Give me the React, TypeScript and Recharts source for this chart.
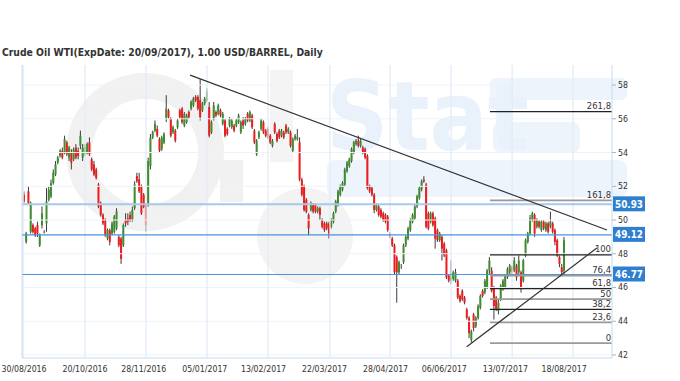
import React from 'react';
import { ComposedChart, Bar, XAxis, YAxis, ReferenceLine } from 'recharts';

const FONT = "'DejaVu Sans Condensed', 'DejaVu Sans', sans-serif";

// daily candles, Crude Oil WTI (Sep 2017 contract), one entry per bar
const opens = [
  51.5, 48.7, 51.7, 49.3, 49.7, 49.5, 49.7, 48.5, 49.7, 49.3,
  49.8, 51.2, 51.4, 52.2, 52.7, 53.4, 53.8, 54.1, 54.0, 54.6,
  53.7, 54.0, 53.6, 54.3, 54.1, 54.4, 53.7, 53.9, 54.0, 54.6,
  53.6, 53.3, 53.0, 52.1, 51.0, 50.3, 50.0, 48.9, 49.4, 49.2,
  49.3, 49.5, 49.0, 48.9, 48.5, 50.0, 50.1, 50.3, 50.0, 50.7,
  52.6, 52.4, 52.0, 51.5, 50.9, 50.9, 53.2, 54.9, 55.3, 55.4,
  54.8, 54.2, 54.6, 56.0, 56.5, 56.0, 55.2, 55.3, 55.5, 56.5,
  56.6, 55.6, 55.8, 56.4, 56.6, 56.8, 57.3, 57.3, 57.1, 56.5,
  56.9, 57.1, 56.7, 55.2, 56.0, 56.4, 56.3, 56.5, 55.7, 55.9,
  55.4, 55.6, 55.5, 55.6, 55.6, 55.8, 55.2, 55.9, 55.7, 56.3,
  55.9, 56.2, 55.3, 53.9, 54.9, 55.4, 55.8, 55.3, 55.4, 55.0,
  54.4, 55.7, 55.1, 55.3, 55.0, 55.2, 55.6, 55.2, 55.2, 54.1,
  54.8, 54.8, 54.6, 52.4, 52.0, 51.2, 50.3, 50.6, 50.9, 50.9,
  50.5, 50.7, 50.0, 49.8, 49.8, 49.8, 49.6, 49.9, 50.5, 50.9,
  51.5, 51.8, 52.1, 52.9, 53.2, 53.5, 54.0, 54.5, 54.7, 54.4,
  54.3, 54.2, 53.8, 52.0, 51.9, 51.5, 50.6, 50.8, 50.6, 50.4,
  50.3, 50.2, 49.2, 48.9, 48.5, 47.8, 46.9, 47.3, 47.5, 48.5,
  48.9, 49.4, 49.9, 50.1, 50.8, 51.3, 51.8, 52.4, 52.1, 50.4,
  49.9, 50.4, 50.1, 49.4, 48.8, 49.0, 48.6, 48.2, 46.7, 46.4,
  46.5, 46.4, 46.4, 45.5, 45.8, 45.4, 44.7, 44.2, 42.9, 44.4,
  43.7, 44.2, 44.8, 45.8, 45.7, 46.0, 47.0, 47.0, 46.0, 45.4,
  44.6, 45.3, 45.9, 46.0, 46.6, 46.9, 47.2, 47.0, 47.3, 46.9,
  46.9, 46.4, 47.9, 48.7, 49.2, 50.0, 50.3, 49.6, 49.9, 49.4,
  49.9, 49.4, 49.8, 49.6, 49.8, 49.4, 48.8, 47.8, 47.2, 47.0,
];

const highs = [
  51.7, 49.3, 52.0, 51.1, 49.8, 49.6, 49.9, 49.2, 50.8, 49.4,
  51.9, 52.0, 52.4, 53.0, 53.5, 53.8, 54.2, 54.3, 55.0, 54.7,
  54.4, 54.2, 54.3, 54.5, 54.3, 55.3, 54.5, 54.5, 54.6, 54.9,
  53.7, 53.5, 53.1, 52.2, 51.1, 50.4, 50.1, 49.5, 49.5, 49.9,
  50.3, 50.7, 49.1, 49.0, 49.8, 50.4, 50.4, 50.5, 50.8, 52.3,
  52.8, 52.8, 52.1, 51.6, 51.0, 53.7, 55.1, 55.3, 55.9, 55.6,
  54.9, 55.0, 55.2, 57.4, 56.6, 56.1, 55.6, 55.4, 56.0, 56.6,
  56.7, 56.4, 56.3, 56.5, 57.1, 57.3, 57.4, 57.4, 58.35, 57.0,
  57.3, 57.8, 57.0, 55.9, 57.0, 56.5, 56.9, 56.6, 56.4, 56.0,
  55.5, 56.1, 56.0, 55.7, 56.0, 56.3, 55.9, 56.1, 56.1, 56.4,
  56.5, 56.3, 55.4, 54.8, 55.3, 56.0, 55.9, 55.4, 55.5, 55.1,
  54.8, 55.8, 55.2, 55.4, 55.4, 55.3, 55.7, 55.5, 55.3, 54.9,
  55.1, 55.4, 54.9, 52.5, 52.1, 51.3, 50.4, 51.1, 51.0, 51.0,
  50.8, 50.8, 50.1, 49.9, 49.9, 49.9, 50.1, 50.5, 51.2, 51.8,
  52.1, 52.3, 53.1, 53.5, 53.7, 54.3, 54.7, 54.8, 55.0, 54.8,
  54.4, 54.3, 53.9, 52.1, 52.0, 51.6, 51.0, 50.9, 50.7, 50.5,
  50.4, 50.3, 49.3, 49.0, 48.6, 47.9, 47.6, 47.4, 48.6, 49.1,
  49.6, 50.1, 50.4, 50.9, 51.5, 52.0, 52.4, 52.6, 52.2, 50.5,
  50.5, 50.5, 50.2, 49.5, 49.3, 49.1, 48.7, 48.3, 46.8, 47.6,
  47.0, 47.1, 46.5, 45.6, 45.9, 45.5, 44.8, 44.3, 43.5, 44.5,
  44.3, 45.0, 45.6, 45.9, 46.5, 47.1, 47.8, 47.2, 46.1, 45.5,
  45.3, 46.2, 46.5, 46.8, 47.2, 47.4, 47.3, 47.8, 47.4, 47.9,
  47.0, 47.7, 48.9, 49.3, 50.3, 50.5, 50.4, 50.1, 50.0, 50.0,
  50.0, 49.9, 49.9, 50.5, 49.9, 49.5, 48.9, 47.9, 47.4, 49.0,
];

const lows = [
  51.0, 48.6, 50.9, 49.2, 49.2, 49.0, 49.0, 48.4, 49.5, 49.2,
  49.3, 51.1, 51.3, 52.1, 52.6, 53.3, 53.7, 53.6, 53.9, 53.8,
  53.5, 53.0, 53.5, 53.6, 53.6, 54.2, 53.5, 53.8, 53.9, 53.8,
  52.9, 52.6, 52.4, 50.7, 50.2, 49.7, 49.0, 48.8, 48.5, 49.1,
  49.2, 49.4, 48.4, 47.4, 48.4, 49.6, 49.7, 49.9, 49.9, 50.6,
  52.2, 51.6, 50.3, 50.7, 49.3, 50.8, 53.0, 54.8, 55.2, 54.9,
  54.0, 54.1, 54.5, 55.8, 56.0, 54.9, 55.1, 54.6, 55.4, 56.0,
  55.7, 55.5, 55.7, 56.0, 56.5, 56.7, 57.0, 56.5, 55.9, 56.4,
  56.8, 57.0, 54.9, 55.1, 55.9, 56.1, 56.2, 56.1, 55.6, 54.9,
  55.0, 55.5, 55.4, 55.2, 55.5, 55.7, 55.1, 55.4, 55.6, 55.8,
  55.8, 55.4, 54.5, 53.8, 54.8, 55.3, 55.1, 54.9, 54.8, 54.5,
  54.3, 55.1, 54.6, 54.8, 54.9, 54.8, 55.1, 55.1, 54.3, 54.0,
  54.7, 54.7, 52.3, 51.4, 50.5, 50.4, 49.1, 50.5, 50.4, 50.4,
  50.4, 50.0, 49.5, 49.3, 49.4, 48.9, 49.5, 49.8, 50.4, 50.8,
  51.4, 51.7, 52.0, 52.8, 53.1, 53.4, 53.9, 54.4, 54.3, 54.3,
  53.9, 53.6, 51.8, 51.6, 51.4, 50.4, 50.5, 50.2, 50.1, 49.9,
  49.8, 49.3, 48.9, 48.4, 46.8, 45.1, 46.8, 47.1, 47.4, 48.4,
  48.8, 49.3, 49.8, 50.0, 50.7, 51.2, 51.7, 52.2, 49.5, 49.4,
  49.8, 49.6, 48.3, 48.7, 48.7, 47.6, 47.8, 46.5, 46.3, 46.2,
  46.4, 46.3, 45.3, 45.1, 45.2, 45.0, 44.1, 43.0, 42.75, 43.4,
  43.6, 44.1, 44.7, 45.4, 45.6, 45.9, 46.8, 45.7, 44.1, 44.6,
  44.4, 45.2, 45.8, 45.9, 46.5, 46.8, 46.8, 46.9, 46.4, 46.8,
  45.7, 46.3, 47.8, 48.6, 49.1, 49.9, 49.0, 49.5, 49.5, 49.3,
  49.4, 49.3, 49.2, 49.5, 49.2, 48.5, 47.8, 47.2, 46.7, 46.8,
];

const closes = [
  51.1, 49.2, 51.0, 51.0, 49.3, 49.1, 49.2, 49.1, 50.4, 49.3,
  51.1, 51.8, 52.2, 52.8, 53.3, 53.7, 54.1, 53.7, 54.8, 53.9,
  54.3, 53.4, 54.2, 53.7, 53.8, 55.0, 54.3, 54.3, 54.5, 53.9,
  53.0, 52.7, 52.5, 50.8, 50.3, 49.8, 49.1, 49.4, 48.7, 49.8,
  50.2, 50.5, 48.5, 47.7, 49.7, 49.8, 49.9, 50.0, 50.6, 52.1,
  52.3, 51.7, 50.4, 50.8, 49.7, 53.5, 54.9, 55.2, 55.7, 55.0,
  54.1, 54.9, 55.1, 56.6, 56.1, 55.0, 55.5, 54.7, 55.9, 56.1,
  55.8, 56.3, 56.2, 56.1, 57.0, 57.2, 57.1, 56.6, 56.1, 56.9,
  57.2, 57.6, 55.0, 55.8, 56.8, 56.2, 56.8, 56.2, 56.3, 55.0,
  55.1, 56.0, 55.9, 55.3, 55.9, 56.2, 55.8, 55.6, 56.0, 55.9,
  56.4, 55.5, 54.6, 54.7, 55.2, 55.9, 55.2, 55.0, 54.9, 54.6,
  54.7, 55.2, 54.7, 54.9, 55.3, 54.9, 55.2, 55.4, 54.4, 54.8,
  55.0, 54.9, 52.4, 51.5, 50.6, 50.5, 49.5, 51.0, 50.5, 50.5,
  50.7, 50.3, 49.6, 49.4, 49.5, 49.2, 50.0, 50.4, 51.1, 51.7,
  52.0, 52.2, 53.0, 53.4, 53.6, 54.2, 54.6, 54.7, 54.4, 54.7,
  54.0, 53.7, 51.9, 51.7, 51.5, 50.6, 50.9, 50.3, 50.2, 50.0,
  49.9, 49.4, 49.0, 48.5, 46.9, 46.9, 47.5, 47.3, 48.5, 49.0,
  49.5, 50.0, 50.3, 50.8, 51.4, 51.9, 52.3, 52.3, 49.6, 49.5,
  50.4, 49.7, 48.9, 48.8, 49.2, 48.3, 47.9, 46.6, 46.4, 46.7,
  46.9, 46.9, 45.4, 45.2, 45.3, 45.1, 44.2, 43.3, 43.4, 43.6,
  44.2, 44.9, 45.5, 45.5, 46.4, 47.0, 47.6, 45.8, 44.9, 44.7,
  45.1, 46.1, 46.4, 46.7, 47.1, 47.3, 46.9, 47.6, 46.6, 47.6,
  45.9, 47.6, 48.8, 49.2, 50.1, 50.4, 49.2, 50.0, 49.6, 49.9,
  49.5, 49.8, 49.3, 49.9, 49.3, 48.7, 47.9, 47.4, 46.9, 48.8,
];

// x axis: labels sit under these bars, grid lines at separate positions
const dateLabels = ['30/08/2016', '20/10/2016', '28/11/2016', '05/01/2017', '13/02/2017',
  '22/03/2017', '28/04/2017', '06/06/2017', '13/07/2017', '18/08/2017'];
const dateLabelBars = [0, 27, 53, 80, 106, 133, 160, 186, 213, 239];
const gridBars = [-0.4, 27, 54, 81, 108, 135.4, 162, 189, 216, 243];
const priceTicks = [42, 44, 46, 48, 50, 52, 54, 56, 58];

// marked price levels on the right axis
const markedPrices = [50.93, 49.12, 46.77];

// fibonacci levels drawn from the June low to the July high
const fibNames = ['0', '23,6', '38,2', '50', '61,8', '76,4', '100', '161,8', '261,8'];
const fibPrices = [42.7, 43.93, 44.7, 45.31, 45.93, 46.7, 47.93, 51.17, 56.42];
const fibFromBar = 206.2;

// trend lines (bar index, price)
const resistanceLine = [{ x: 73.5, y: 58.59 }, { x: 258, y: 49.41 }];
const supportLine = [{ x: 195.9, y: 42.49 }, { x: 253.5, y: 48.34 }];

const chartData = opens.map((open, i) => ({
  i,
  open,
  high: highs[i],
  low: lows[i],
  close: closes[i],
  range: [lows[i], highs[i]],
}));

const darkFibs = ['38,2', '61,8', '100', '261,8'];

// one candle: wick from high to low, body between open and close
const Candle = (props: any) => {
  const { x, y, width, height, payload } = props;
  if (x == null || y == null) return null;
  const { open, close, high, low } = payload;
  const cx = x + width / 2;
  const span = high - low || 1;
  const toY = (v: number) => y + ((high - v) / span) * height;
  const top = toY(Math.max(open, close));
  const bottom = toY(Math.min(open, close));
  const color = close > open ? '#3e8d2e' : close < open ? '#f01c1c' : '#8e8e8e';
  return (
    <g>
      <line x1={cx} x2={cx} y1={y} y2={y + height} stroke="#3c3c3c" strokeWidth={1} />
      <rect x={cx - 1} y={top} width={2} height={Math.max(bottom - top, 1)} fill={color} />
    </g>
  );
};

const DateTick = ({ x, y, payload }: any) => {
  const k = dateLabelBars.indexOf(payload.value);
  return (
    <text x={x} y={y + 14} textAnchor="middle" fontSize={8.7} fill="#333" fontFamily={FONT}>
      {dateLabels[k]}
    </text>
  );
};

const PriceTick = ({ x, y, payload }: any) => (
  <text x={x} y={y + 3} fontSize={8.7} fill="#333" fontFamily={FONT}>{payload.value}</text>
);

const PriceTag = ({ viewBox, value }: any) => {
  if (!viewBox) return null;
  const x = viewBox.x + viewBox.width + 1;
  const y = viewBox.y;
  return (
    <g>
      <rect x={x} y={y - 8} width={32} height={15} fill="#2f7fd1" />
      <text x={x + 16} y={y + 3.5} textAnchor="middle" fill="#fff" fontSize={9.8}
        fontWeight="bold" fontFamily={FONT}>{value.toFixed(2)}</text>
    </g>
  );
};

const FibTag = ({ viewBox, text }: any) => {
  if (!viewBox) return null;
  return (
    <text x={viewBox.x + viewBox.width - 1} y={viewBox.y - 2.5} textAnchor="end"
      fontSize={9.4} fill="#333" fontFamily={FONT}>{text}</text>
  );
};

// faint "OilStat" watermark behind the plot
const Watermark = () => (
  <svg width={680} height={381} style={{ position: 'absolute', left: 0, top: 0 }}>
    <circle cx={145} cy={152} r={66} fill="none" stroke="#f1f1f1" strokeWidth={26} />
    <rect x={220} y={160} width={23} height={42} fill="#f1f1f1" />
    <rect x={270} y={70} width={23} height={92} fill="#f4f4f4" />
    <circle cx={305} cy={236} r={48} fill="#f3f3f3" />
    <rect x={327} y={160} width={300} height={37} rx={8} fill="#edf4fb" />
    <rect x={490} y={78} width={137} height={22} rx={6} fill="#edf4fb" />
    <rect x={493} y={122} width={87} height={31} rx={8} fill="#edf4fb" />
    <text x={326} y={150} fontSize={96} fontWeight="bold" fill="#e9f1fa" fontFamily={FONT}>Stat</text>
    <text x={2} y={56} fontSize={10.3} fontWeight="bold" fill="#333" fontFamily={FONT}>
      Crude Oil WTI(ExpDate: 20/09/2017), 1.00 USD/BARREL, Daily
    </text>
  </svg>
);

export default function App() {
  return (
    <div style={{ position: 'absolute', left: 0, top: 0, width: 680, height: 381, background: '#fff' }}>
      <Watermark />
      <div style={{ position: 'absolute', left: 0, top: 0 }}>
        <ComposedChart width={680} height={381} data={chartData}
          margin={{ top: 65, right: 12, bottom: 3, left: 8 }}>
          <XAxis dataKey="i" type="number" domain={[-0.9, 260.2]} allowDataOverflow
            ticks={dateLabelBars} interval={0} tick={<DateTick />} tickLine={false} tickSize={0}
            tickMargin={0} height={20} axisLine={{ stroke: '#c9dcef' }} />
          <YAxis yAxisId="l" orientation="left" width={14} domain={[41.82, 59.19]} allowDataOverflow
            ticks={priceTicks} tick={false} tickSize={3} tickLine={{ stroke: '#c9dcef' }}
            axisLine={{ stroke: '#c9dcef' }} />
          <YAxis yAxisId="p" orientation="right" width={56} domain={[41.82, 59.19]} allowDataOverflow
            ticks={priceTicks} interval={0} tick={<PriceTick />} tickSize={4} tickMargin={2}
            tickLine={{ stroke: '#9fb8d2' }} axisLine={{ stroke: '#c9dcef' }} />

          {priceTicks.map((t) => (
            <ReferenceLine key={'h' + t} yAxisId="p" y={t} stroke="#eef3f9" strokeWidth={1} />
          ))}
          {gridBars.map((g) => (
            <ReferenceLine key={'v' + g} yAxisId="p" x={g} stroke="#e2ecf7" strokeWidth={1.3} ifOverflow="visible" />
          ))}

          {markedPrices.map((p, k) => (
            <ReferenceLine key={'m' + p} yAxisId="p" y={p}
              stroke={k === 0 ? '#a7c8ea' : '#4b92dc'} strokeWidth={k === 0 ? 2 : 1.2}
              label={<PriceTag value={p} />} />
          ))}

          <Bar dataKey="range" yAxisId="p" barSize={2} isAnimationActive={false}
            shape={(p: any) => <Candle {...p} />} />

          {fibPrices.map((v, k) => (
            <ReferenceLine key={'f' + k} yAxisId="p" ifOverflow="visible"
              segment={[{ x: fibFromBar, y: v }, { x: 260.2, y: v }]}
              stroke={darkFibs.includes(fibNames[k]) ? '#222' : '#9a9a9a'}
              strokeWidth={darkFibs.includes(fibNames[k]) ? 1.2 : 1.8}
              label={<FibTag text={fibNames[k]} />} />
          ))}

          <ReferenceLine yAxisId="p" segment={resistanceLine} stroke="#333" strokeWidth={1.2} ifOverflow="visible" />
          <ReferenceLine yAxisId="p" segment={supportLine} stroke="#333" strokeWidth={1.2} ifOverflow="visible" />
        </ComposedChart>
      </div>
    </div>
  );
}
